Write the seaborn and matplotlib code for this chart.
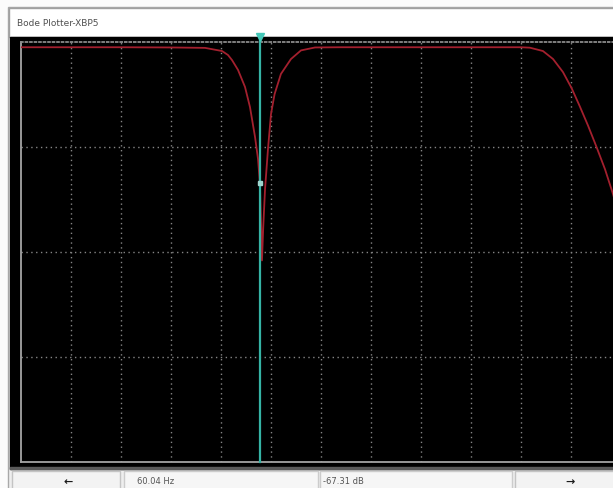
import pandas as pd
import matplotlib.pyplot as plt
from matplotlib.patches import Rectangle
from matplotlib.ticker import NullLocator
import seaborn as sns

# values (1 mHz .. 1 GHz, -200 .. 0 dB)
freq_hz = [0.001, 0.01, 0.1, 1.0, 4.8, 10.5, 13.8, 16.6, 21.9, 30.2, 38.0, 47.9,
           55.0, 60.04, 63.0, 66.0, 70.0, 76.0, 87.0, 100.0, 118.0, 158.0, 251.0,
           398.0, 759.0, 2400.0, 1e5, 1e6, 1e7, 1.5e7, 2.75e7, 4.37e7, 6.9e7,
           1.03e8, 1.51e8, 2.19e8, 3.24e8, 4.79e8, 6.92e8, 1e9]
gain_db = [-2.5, -2.5, -2.5, -2.6, -2.8, -4.3, -6.2, -8.6, -13.3, -21.4, -31.0, -45.2,
           -55.7, -67.3, -85.0, -104.0, -88.0, -70.0, -51.0, -34.3, -24.8, -15.2, -8.1,
           -4.0, -2.6, -2.5, -2.5, -2.5, -2.5, -2.7, -4.3, -8.1, -14.3,
           -22.0, -30.8, -39.8, -50.0, -60.6, -72.4, -86.0]

decade_ticks = [1e-2, 1e-1, 1e0, 1e1, 1e2, 1e3, 1e4, 1e5, 1e6, 1e7, 1e8]
db_ticks = [-150, -100, -50]

cursor_freq = 60.04
cursor_gain = -67.31
cursor_freq_text = "60.04 Hz"
cursor_gain_text = "-67.31 dB"
window_title = "Bode Plotter-XBP5"

df = pd.DataFrame({"freq": freq_hz, "gain": gain_db})

W, H = 613, 489
fig = plt.figure(figsize=(W / 100, H / 100), dpi=100)
fig.patch.set_facecolor("#fbfbfb")


def box(x0, y0, x1, y1, face, edge=None, lw=1.0):
    # rectangle in screen pixels (y from the top)
    fig.patches.append(Rectangle((x0 / W, 1 - y1 / H), (x1 - x0) / W, (y1 - y0) / H,
                                 transform=fig.transFigure, facecolor=face,
                                 edgecolor=edge if edge else face, lw=lw, zorder=-2))


def label(x, y, s, **kw):
    fig.text(x / W, 1 - y / H, s, va="center", **kw)


# window frame, title bar, black screen and bottom controls
box(8, 8, 616, 492, "#eeeeee", "#a8a8a8")
box(9, 9, 616, 38, "#ffffff", "#a0a0a0")
box(10, 38, 616, 470, "#000000")
box(10, 468, 616, 470, "#5a5a5a")
box(12, 472, 120, 492, "#f3f3f3", "#c4c4c4")
box(124, 472, 318, 492, "#f6f6f6", "#cccccc")
box(320, 472, 512, 492, "#f6f6f6", "#cccccc")
box(515, 472, 616, 492, "#f3f3f3", "#c4c4c4")

label(17, 23, window_title, fontsize=6.5, color="#505050")
label(68, 482, "←", fontsize=8, color="#1a1a1a", ha="center", fontweight="bold")
label(137, 482, cursor_freq_text, fontsize=6, color="#555555")
label(323, 482, cursor_gain_text, fontsize=6, color="#555555")
label(570, 482, "→", fontsize=8, color="#1a1a1a", ha="center", fontweight="bold")

# plot area (right edge runs off the window like in the screenshot)
ax = fig.add_axes([21 / W, 1 - 463 / H, 600 / W, 420 / H])
ax.set_facecolor("#000000")

sns.lineplot(data=df, x="freq", y="gain", ax=ax, color="#a3202e",
             linewidth=1.3, sort=False, legend=False, zorder=3)

ax.set_xscale("log")
ax.set_xlim(1e-3, 1e9)
ax.set_ylim(-200, 0)
ax.set_xticks(decade_ticks)
ax.set_yticks(db_ticks)
ax.xaxis.set_minor_locator(NullLocator())
ax.tick_params(length=0, labelbottom=False, labelleft=False)
ax.set_xlabel("")
ax.set_ylabel("")
ax.set_axisbelow(True)
ax.grid(True, color="#858585", linestyle=(0, (1, 2.5)), linewidth=1.0)

for side, sp in ax.spines.items():
    sp.set_color("#a4a4a4")
    sp.set_linewidth(1.3)
ax.spines["top"].set_linestyle((0, (1, 1.5)))
ax.spines["top"].set_color("#8a8a8a")

# cursor
ax.axvline(cursor_freq, ymin=0, ymax=1.012, color="#35b3a4", lw=1.6,
           clip_on=False, zorder=4)
ax.plot([cursor_freq], [2.5], marker="v", ms=6, color="#45c8b8",
        clip_on=False, zorder=5)
ax.plot([cursor_freq], [cursor_gain], marker="s", ms=3.5, color="#9fd6cf", zorder=5)

fig.savefig("out.png", dpi=100, facecolor=fig.get_facecolor())
